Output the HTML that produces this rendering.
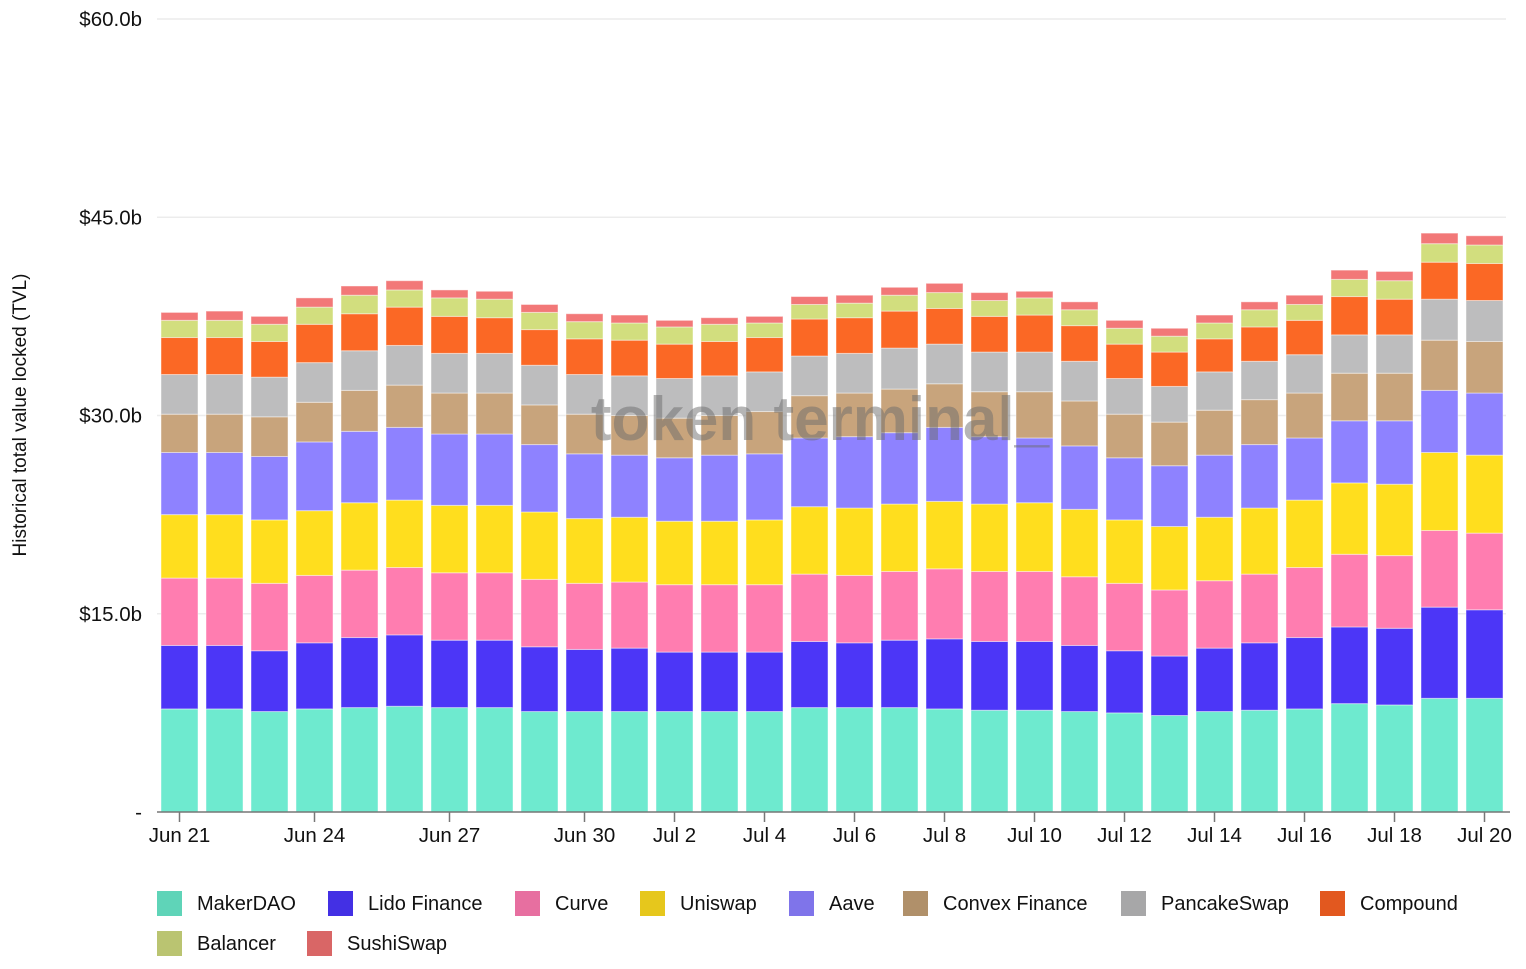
<!DOCTYPE html>
<html><head><meta charset="utf-8"><style>
body{margin:0;background:#fff;font-family:"Liberation Sans",sans-serif;}
svg text{font-family:"Liberation Sans",sans-serif;}
</style></head><body>
<svg id="chart" width="1526" height="964" viewBox="0 0 1526 964" xmlns="http://www.w3.org/2000/svg">
<g id="grid"></g>
<g id="bars"></g>
<text x="820" y="440" text-anchor="middle" font-size="62" font-weight="bold" fill="#6b6b6b" fill-opacity="0.5">token terminal_</text>
<g id="axes"></g>
<text transform="translate(26,415) rotate(-90)" text-anchor="middle" font-size="19" fill="#111">Historical total value locked (TVL)</text>
<g id="legend"></g>
</svg>
<script>
const categories=["Jun 21","Jun 22","Jun 23","Jun 24","Jun 25","Jun 26","Jun 27","Jun 28","Jun 29","Jun 30","Jul 1","Jul 2","Jul 3","Jul 4","Jul 5","Jul 6","Jul 7","Jul 8","Jul 9","Jul 10","Jul 11","Jul 12","Jul 13","Jul 14","Jul 15","Jul 16","Jul 17","Jul 18","Jul 19","Jul 20"];
const xTickLabels=["Jun 21","Jun 24","Jun 27","Jun 30","Jul 2","Jul 4","Jul 6","Jul 8","Jul 10","Jul 12","Jul 14","Jul 16","Jul 18","Jul 20"];
const yTicks=[0,15,30,45,60];
const yTickLabels=["-","$15.0b","$30.0b","$45.0b","$60.0b"];
const seriesNames=["MakerDAO","Lido Finance","Curve","Uniswap","Aave","Convex Finance","PancakeSwap","Compound","Balancer","SushiSwap"];
const makerdao=[7.8,7.8,7.6,7.8,7.9,8.0,7.9,7.9,7.6,7.6,7.6,7.6,7.6,7.6,7.9,7.9,7.9,7.8,7.7,7.7,7.6,7.5,7.3,7.6,7.7,7.8,8.2,8.1,8.6,8.6];
const lido=[4.8,4.8,4.6,5.0,5.3,5.4,5.1,5.1,4.9,4.7,4.8,4.5,4.5,4.5,5.0,4.9,5.1,5.3,5.2,5.2,5.0,4.7,4.5,4.8,5.1,5.4,5.8,5.8,6.9,6.7];
const curve=[5.1,5.1,5.1,5.1,5.1,5.1,5.1,5.1,5.1,5.0,5.0,5.1,5.1,5.1,5.1,5.1,5.2,5.3,5.3,5.3,5.2,5.1,5.0,5.1,5.2,5.3,5.5,5.5,5.8,5.8];
const uniswap=[4.8,4.8,4.8,4.9,5.1,5.1,5.1,5.1,5.1,4.9,4.9,4.8,4.8,4.9,5.1,5.1,5.1,5.1,5.1,5.2,5.1,4.8,4.8,4.8,5.0,5.1,5.4,5.4,5.9,5.9];
const aave=[4.7,4.7,4.8,5.2,5.4,5.5,5.4,5.4,5.1,4.9,4.7,4.8,5.0,5.0,5.2,5.4,5.4,5.6,5.1,4.9,4.8,4.7,4.6,4.7,4.8,4.7,4.7,4.8,4.7,4.7];
const convex=[2.9,2.9,3.0,3.0,3.1,3.2,3.1,3.1,3.0,3.0,3.0,3.0,3.0,3.2,3.2,3.3,3.3,3.3,3.4,3.5,3.4,3.3,3.3,3.4,3.4,3.4,3.6,3.6,3.8,3.9];
const pancakeswap=[3.0,3.0,3.0,3.0,3.0,3.0,3.0,3.0,3.0,3.0,3.0,3.0,3.0,3.0,3.0,3.0,3.1,3.0,3.0,3.0,3.0,2.7,2.7,2.9,2.9,2.9,2.9,2.9,3.1,3.1];
const compound=[2.8,2.8,2.7,2.9,2.8,2.9,2.8,2.7,2.7,2.7,2.7,2.6,2.6,2.6,2.8,2.7,2.8,2.7,2.7,2.8,2.7,2.6,2.6,2.5,2.6,2.6,2.9,2.7,2.8,2.8];
const balancer=[1.3,1.3,1.3,1.3,1.4,1.3,1.4,1.4,1.3,1.3,1.3,1.3,1.3,1.1,1.1,1.1,1.2,1.2,1.2,1.3,1.2,1.2,1.2,1.2,1.3,1.2,1.3,1.4,1.4,1.4];
const sushiswap=[0.6,0.7,0.6,0.7,0.7,0.7,0.6,0.6,0.6,0.6,0.6,0.5,0.5,0.5,0.6,0.6,0.6,0.7,0.6,0.5,0.6,0.6,0.6,0.6,0.6,0.7,0.7,0.7,0.8,0.7];
const seriesValues=[makerdao,lido,curve,uniswap,aave,convex,pancakeswap,compound,balancer,sushiswap];
const barColors=["#6eeacf","#4c36f7","#ff7db0","#ffde1e","#8e82ff","#c8a47c","#bdbdbe","#fb6825","#d2de7e","#f27878"];
const legendColors=["#5fd4b8","#4330e4","#e76fa0","#e6c71c","#7f74ea","#b0906a","#a7a7a8","#e2581f","#bac471","#d96666"];

const NS="http://www.w3.org/2000/svg";
const x0=179.5,step=45,bw=37,yBase=812,yTop=19,yMax=60;
function xPos(i){return x0+i*step;}
function yPos(v){return yBase-(v/yMax)*(yBase-yTop);}
function mk(tag,attrs,parent){const e=document.createElementNS(NS,tag);for(const k in attrs)e.setAttribute(k,attrs[k]);parent.appendChild(e);return e;}

const grid=document.getElementById('grid');
yTicks.forEach((t,i)=>{
  const y=yPos(t);
  if(t>0){const l=mk('line',{x1:157,x2:1506,y1:y,y2:y,stroke:'#ececec','stroke-width':1.5},grid);
  
  }
  const tx=mk('text',{x:142,y:y+7,'text-anchor':'end','font-size':20.5,fill:'#111'},grid);
  tx.textContent=yTickLabels[i];
  
  
});

const bars=document.getElementById('bars');
categories.forEach((c,i)=>{
  let cum=0;
  seriesValues.forEach((s,k)=>{
    const v=s[i];const y1=yPos(cum+v),y0=yPos(cum);cum+=v;
    const r=mk('rect',{x:xPos(i)-bw/2,y:y1,width:bw,height:y0-y1,fill:barColors[k],stroke:'rgba(255,255,255,0.45)','stroke-width':1},bars);
    
    
  });
});

const axes=document.getElementById('axes');
const ax=mk('line',{x1:157,x2:1510,y1:812,y2:812,stroke:'#777','stroke-width':1.5},axes);


xTickLabels.forEach(lbl=>{
  const i=categories.indexOf(lbl);const x=xPos(i);
  const t=mk('line',{x1:x,x2:x,y1:812,y2:822,stroke:'#777','stroke-width':1.5},axes);
  
  
  const tx=mk('text',{x:x,y:842,'text-anchor':'middle','font-size':20.5,fill:'#111'},axes);
  tx.textContent=lbl;
  
  
});

const legend=document.getElementById('legend');
const legPos=[[157,891],[328,891],[515,891],[640,891],[789,891],[903,891],[1121,891],[1320,891],[157,931],[307,931]];
seriesNames.forEach((n,k)=>{
  const g=mk('g',{},legend);
  
  
  mk('rect',{x:legPos[k][0],y:legPos[k][1],width:25,height:25,fill:legendColors[k]},g);
  const t=mk('text',{x:legPos[k][0]+40,y:legPos[k][1]+19,'font-size':20,fill:'#111'},g);
  t.textContent=n;
});
</script>
</body></html>
